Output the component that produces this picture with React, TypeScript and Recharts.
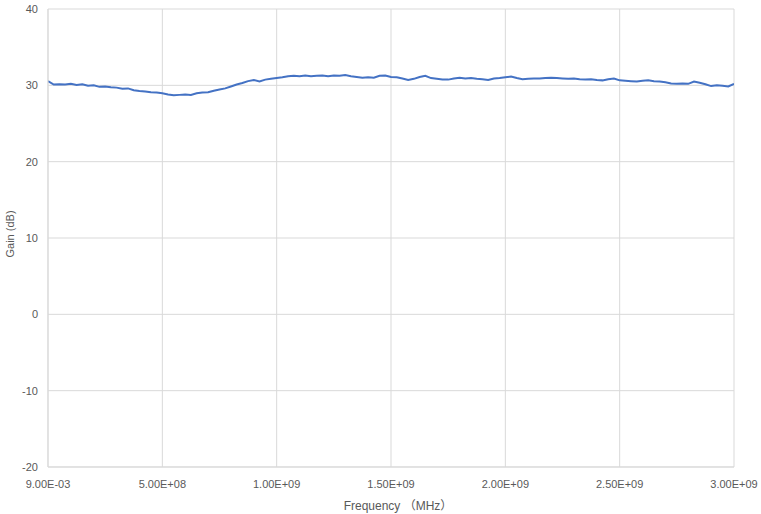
import React from 'react';
import { LineChart, Line, XAxis, YAxis, CartesianGrid, Label } from 'recharts';

// frequency points (Hz)
const freqHz = [
  0.009, 2.5e7, 5e7, 7.5e7, 1e8, 1.25e8, 1.5e8, 1.75e8, 2e8, 2.25e8,
  2.5e8, 2.75e8, 3e8, 3.25e8, 3.5e8, 3.75e8, 4e8, 4.25e8, 4.5e8, 4.75e8,
  5e8, 5.25e8, 5.5e8, 5.75e8, 6e8, 6.25e8, 6.5e8, 6.75e8, 7e8, 7.25e8,
  7.5e8, 7.75e8, 8e8, 8.25e8, 8.5e8, 8.75e8, 9e8, 9.25e8, 9.5e8, 9.75e8,
  1e9, 1.025e9, 1.05e9, 1.075e9, 1.1e9, 1.125e9, 1.15e9, 1.175e9, 1.2e9, 1.225e9,
  1.25e9, 1.275e9, 1.3e9, 1.325e9, 1.35e9, 1.375e9, 1.4e9, 1.425e9, 1.45e9, 1.475e9,
  1.5e9, 1.525e9, 1.55e9, 1.575e9, 1.6e9, 1.625e9, 1.65e9, 1.675e9, 1.7e9, 1.725e9,
  1.75e9, 1.775e9, 1.8e9, 1.825e9, 1.85e9, 1.875e9, 1.9e9, 1.925e9, 1.95e9, 1.975e9,
  2e9, 2.025e9, 2.05e9, 2.075e9, 2.1e9, 2.125e9, 2.15e9, 2.175e9, 2.2e9, 2.225e9,
  2.25e9, 2.275e9, 2.3e9, 2.325e9, 2.35e9, 2.375e9, 2.4e9, 2.425e9, 2.45e9, 2.475e9,
  2.5e9, 2.525e9, 2.55e9, 2.575e9, 2.6e9, 2.625e9, 2.65e9, 2.675e9, 2.7e9, 2.725e9,
  2.75e9, 2.775e9, 2.8e9, 2.825e9, 2.85e9, 2.875e9, 2.9e9, 2.925e9, 2.95e9, 2.975e9,
  3e9,
];

// gain (dB)
const gainDb = [
  30.55, 30.1, 30.15, 30.1, 30.2, 30.05, 30.15, 29.95, 30.0, 29.8,
  29.85, 29.75, 29.7, 29.55, 29.6, 29.35, 29.25, 29.2, 29.1, 29.05,
  28.95, 28.8, 28.7, 28.75, 28.8, 28.75, 28.95, 29.05, 29.1, 29.3,
  29.45, 29.6, 29.85, 30.1, 30.3, 30.55, 30.7, 30.5, 30.75, 30.85,
  30.95, 31.05, 31.2, 31.25, 31.2, 31.3, 31.2, 31.25, 31.3, 31.2,
  31.3, 31.25, 31.35, 31.2, 31.1, 31.0, 31.05, 31.0, 31.25, 31.3,
  31.1, 31.05, 30.9, 30.7, 30.85, 31.1, 31.25, 30.95, 30.85, 30.75,
  30.75, 30.9, 31.0, 30.9, 30.95, 30.85, 30.8, 30.7, 30.9, 30.95,
  31.05, 31.15, 30.95, 30.8, 30.85, 30.9, 30.9, 30.95, 31.0, 30.95,
  30.9, 30.85, 30.9, 30.8, 30.75, 30.8, 30.7, 30.65, 30.8, 30.9,
  30.65, 30.6, 30.55, 30.5, 30.6, 30.65, 30.55, 30.5, 30.4, 30.25,
  30.2, 30.25, 30.2, 30.5, 30.35, 30.15, 29.9, 30.0, 29.95, 29.85,
  30.2,
];

const xTicks = [0.009, 5e8, 1e9, 1.5e9, 2e9, 2.5e9, 3e9];
const yTicks = [-20, -10, 0, 10, 20, 30, 40];

const data = freqHz.map((f, i) => ({ freq: f, gain: gainDb[i] }));

const sci = (v: number) => {
  const [m, e] = v.toExponential(2).split('e');
  const n = parseInt(e, 10);
  const sign = n < 0 ? '-' : '+';
  const abs = Math.abs(n);
  return `${m}E${sign}${abs < 10 ? '0' + abs : abs}`;
};

const font = '"Liberation Sans", "Noto Sans CJK SC", sans-serif';
const textColor = '#595959';
const gridColor = '#d9d9d9';

export default function App() {
  return (
    <div style={{ position: 'absolute', left: 0, top: 0, width: 761, height: 514, background: '#fff', fontFamily: font }}>
      <LineChart width={761} height={514} data={data} margin={{ top: 9, right: 27, left: 0, bottom: 0 }}>
        <CartesianGrid stroke={gridColor} strokeWidth={1} />
        <XAxis
          dataKey="freq"
          type="number"
          domain={[0.009, 3e9]}
          ticks={xTicks}
          tickFormatter={sci}
          height={47}
          tickLine={false}
          tickMargin={7}
          axisLine={{ stroke: gridColor }}
          tick={{ fill: textColor, fontSize: 11, fontFamily: font }}
          allowDataOverflow
        >
          <Label
            value="Frequency （MHz）"
            position="insideBottom"
            offset={4}
            dx={7}
            style={{ fill: textColor, fontSize: 12, fontFamily: font }}
          />
        </XAxis>
        <YAxis
          type="number"
          domain={[-20, 40]}
          ticks={yTicks}
          width={48}
          tickLine={false}
          tickMargin={4}
          axisLine={{ stroke: gridColor }}
          tick={{ fill: textColor, fontSize: 11, fontFamily: font }}
        >
          <Label
            value="Gain (dB)"
            angle={-90}
            position="insideLeft"
            offset={10}
            dy={-4}
            style={{ fill: textColor, fontSize: 11, fontFamily: font, textAnchor: 'middle' }}
          />
        </YAxis>
        <Line
          type="linear"
          dataKey="gain"
          stroke="#4472C4"
          strokeWidth={2}
          dot={false}
          isAnimationActive={false}
        />
      </LineChart>
    </div>
  );
}
